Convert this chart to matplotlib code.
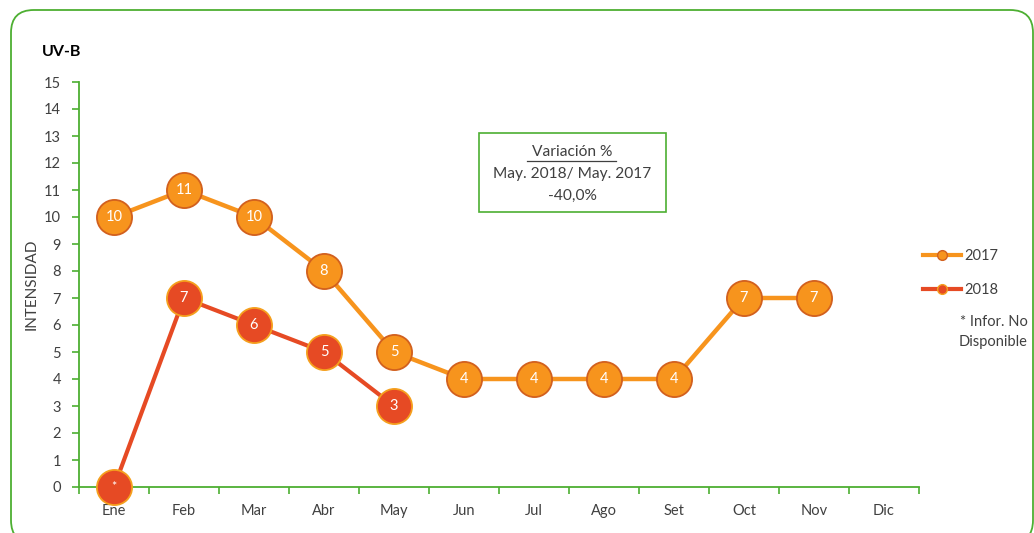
import matplotlib
matplotlib.use("Agg")
import matplotlib.pyplot as plt
from matplotlib.patches import FancyBboxPatch
from matplotlib.lines import Line2D
import numpy as np

months = ["Ene", "Feb", "Mar", "Abr", "May", "Jun", "Jul", "Ago", "Set", "Oct", "Nov", "Dic"]
vals_2017 = [10, 11, 10, 8, 5, 4, 4, 4, 4, 7, 7, None]
vals_2018 = [0, 7, 6, 5, 3, None, None, None, None, None, None, None]
labels_2018 = ["*", "7", "6", "5", "3"]
yticks = list(range(0, 16))

GREEN = "#4DAF32"
O_FILL = "#F7941D"
O_EDGE = "#D2601E"
R_FILL = "#E64A24"
R_EDGE = "#F5A01E"
TXT = "#404040"

plt.rcParams['font.family'] = ['Lato', 'DejaVu Sans']

W, H = 1034, 533
fig = plt.figure(figsize=(W/100, H/100), dpi=100)
ax = fig.add_axes([79/W, 46/H, 840/W, 405/H])

# rounded border (bottom edge runs off the image)
border = FancyBboxPatch((11/W, -10/H), 1022/W, 533/H, boxstyle="round,pad=0,rounding_size=0.022",
                        transform=fig.transFigure, fill=False, edgecolor=GREEN, linewidth=1.3,
                        mutation_aspect=W/H)
fig.patches.append(border)

x = np.arange(len(months))

def series(vals):
    xs = [i for i, v in enumerate(vals) if v is not None]
    ys = [v for v in vals if v is not None]
    return xs, ys

x17, y17 = series(vals_2017)
x18, y18 = series(vals_2018)

ax.plot(x17, y17, color=O_FILL, linewidth=3.2, zorder=2, solid_capstyle='round')
ax.plot(x18, y18, color=R_FILL, linewidth=3.0, zorder=3, solid_capstyle='round')
ax.scatter(x17, y17, s=640, color=O_FILL, edgecolor=O_EDGE, linewidth=1.3, zorder=4, clip_on=False)
ax.scatter(x18, y18, s=640, color=R_FILL, edgecolor=R_EDGE, linewidth=1.3, zorder=5, clip_on=False)

for xi, yi in zip(x17, y17):
    ax.text(xi, yi, str(yi), ha='center', va='center', color='white', fontsize=10.5, zorder=6)
for xi, yi, lab in zip(x18, y18, labels_2018):
    ax.text(xi, yi, lab, ha='center', va='center', color='white',
            fontsize=10.5 if lab != "*" else 9, zorder=6)

ax.set_xlim(-0.5, 11.5)
ax.set_ylim(0, 15)
ax.set_yticks(yticks)
ax.set_yticklabels([str(v) for v in yticks])
ax.set_xticks(x)
ax.set_xticklabels(months)
ax.set_xticks(np.arange(-0.5, 12, 1), minor=True)
ax.tick_params(axis='x', which='major', length=0, pad=12.5, labelsize=10.5, labelcolor=TXT)
ax.tick_params(axis='x', which='minor', length=5, width=1.2, color=GREEN, direction='out')
ax.tick_params(axis='y', length=5, width=1.2, color=GREEN, direction='out', labelsize=10.5,
               labelcolor=TXT, pad=8)
for s in ['top', 'right']:
    ax.spines[s].set_visible(False)
for s in ['left', 'bottom']:
    ax.spines[s].set_color(GREEN)
    ax.spines[s].set_linewidth(1.3)

ax.set_ylabel("INTENSIDAD", fontsize=11, color=TXT, labelpad=4)
fig.text(42/W, 1 - 52/H, "UV-B", fontsize=11.5, fontweight='bold', color='black',
         ha='left', va='center')

# annotation box
box = FancyBboxPatch((479/W, 1 - 212/H), 187/W, 79/H, boxstyle="square,pad=0",
                     transform=fig.transFigure, fill=False, edgecolor=GREEN, linewidth=1.2)
fig.patches.append(box)
cx = 572/W
fig.text(cx, 1 - 152/H, "Variación %", ha='center', va='center', fontsize=11.2, color=TXT)
fig.add_artist(Line2D([527/W, 616/W], [1 - 161/H, 1 - 161/H], color=TXT, linewidth=0.9))
fig.text(cx, 1 - 174/H, "May. 2018/ May. 2017", ha='center', va='center', fontsize=11.2, color=TXT)
fig.text(cx, 1 - 196/H, "-40,0%", ha='center', va='center', fontsize=11.2, color=TXT)

# legend
h17 = Line2D([], [], color=O_FILL, linewidth=3, marker='o', markersize=7,
             markerfacecolor=O_FILL, markeredgecolor=O_EDGE)
h18 = Line2D([], [], color=R_FILL, linewidth=3, marker='o', markersize=7,
             markerfacecolor=R_FILL, markeredgecolor=R_EDGE)
leg = fig.legend([h17, h18], ["2017", "2018"], loc='center left',
                 bbox_to_anchor=(910/W, 1 - 273/H), frameon=False, fontsize=10.5,
                 handlelength=2.6, handletextpad=0.2, labelspacing=1.4, labelcolor=TXT)
fig.text(1028/W, 1 - 322/H, "* Infor. No", ha='right', va='center', fontsize=10.5, color=TXT)
fig.text(1028/W, 1 - 342/H, "Disponible", ha='right', va='center', fontsize=10.5, color=TXT)

fig.savefig("out.png", dpi=100)
